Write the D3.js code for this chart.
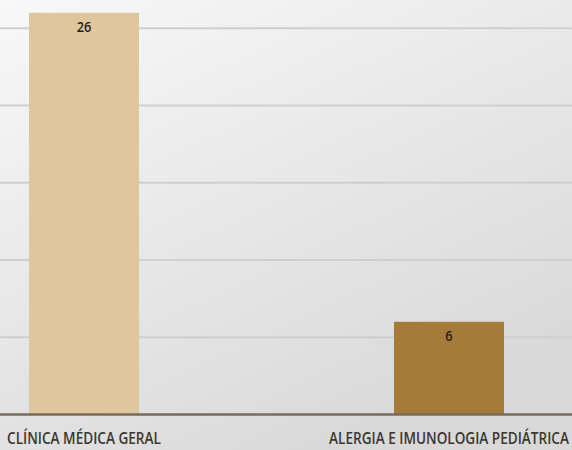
<!DOCTYPE html>
<html><head><meta charset="utf-8">
<script src="https://cdn.jsdelivr.net/npm/d3@7"></script>
<style>html,body{margin:0;padding:0;overflow:hidden;background:#fff}</style>
</head><body><svg id="c" width="572" height="450"></svg>
<script>
const categories = ["CLÍNICA MÉDICA GERAL", "ALERGIA E IMUNOLOGIA PEDIÁTRICA"];
const values = [26, 6];
const barColors = ["#dfc69c", "#a67b3a"];
const yTicks = [0, 5, 10, 15, 20, 25, 30];
const labelWidths = [154, 240];

const W = 572, H = 450;
const svg = d3.select("#c");
const defs = svg.append("defs");
const g = defs.append("linearGradient").attr("id","bg").attr("x1","0").attr("y1","0").attr("x2","0.6").attr("y2","1");
g.append("stop").attr("offset","0").attr("stop-color","#f8f8f8");
g.append("stop").attr("offset","1").attr("stop-color","#d9d9d9");
svg.append("rect").attr("width",W).attr("height",H).attr("fill","url(#bg)");

const x = d3.scaleBand().domain(categories).range([-98.5, 631.5]).paddingInner(0.6986).paddingOuter(0.3493);
const y = d3.scaleLinear().domain([0, 30]).range([414.5, 414.5 - 30*15.45]);

svg.append("g").selectAll("line").data(yTicks.filter(d=>d>0)).join("line")
  .attr("x1",0).attr("x2",W).attr("y1",d=>y(d)).attr("y2",d=>y(d))
  .attr("stroke","#cfcfcf").attr("stroke-width",2);

svg.append("g").selectAll("rect").data(values).join("rect")
  .attr("x",(d,i)=>x(categories[i])).attr("width",x.bandwidth())
  .attr("y",d=>y(d)).attr("height",d=>y(0)-y(d))
  .attr("fill",(d,i)=>barColors[i]);

svg.append("line").attr("x1",0).attr("x2",W).attr("y1",y(0)).attr("y2",y(0))
  .attr("stroke","#756d5c").attr("stroke-width",2.5);

svg.append("g").selectAll("text").data(values).join("text")
  .attr("transform",(d,i)=>`translate(${x(categories[i])+x.bandwidth()/2},${y(d)+19}) scale(0.85,1)`)
  .attr("text-anchor","middle").attr("font-family","Open Sans, sans-serif")
  .attr("font-weight",600).attr("font-size",15).attr("fill","#1e1e1e").text(d=>d);

svg.append("g").selectAll("text").data(categories).join("text")
  .attr("text-anchor","middle").attr("font-family","Open Sans, sans-serif")
  .attr("font-weight",600).attr("font-size",16).attr("fill","#3a382f").text(d=>d)
  .each(function(d,i){
    const w = this.getComputedTextLength();
    const s = labelWidths[i] / w;
    d3.select(this).attr("transform",`translate(${x(d)+x.bandwidth()/2},444) scale(${s},1)`);
  });
</script></body></html>
